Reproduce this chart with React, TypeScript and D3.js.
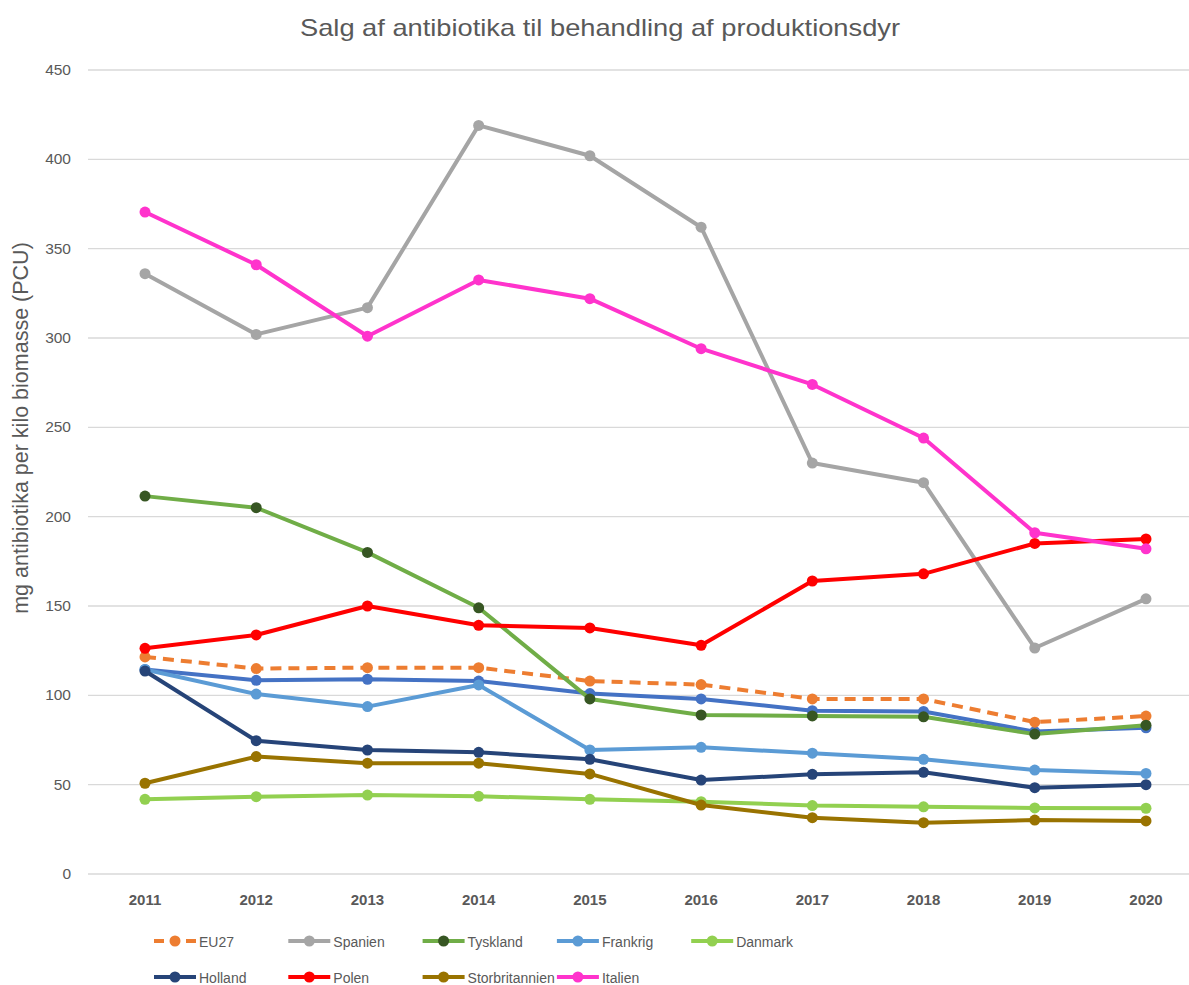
import React from "react";
import * as d3 from "d3";

const years = ["2011", "2012", "2013", "2014", "2015", "2016", "2017", "2018", "2019", "2020"];
const yTicks = [0, 50, 100, 150, 200, 250, 300, 350, 400, 450];

const eu27 = [121.5, 115, 115.5, 115.5, 108, 106, 98, 98, 85, 88.4];
const spanien = [336, 302, 317, 419, 402, 362, 230, 219, 126.5, 154];
const tyskland = [211.5, 205, 180, 149, 98, 89, 88.5, 88, 78.3, 83.3];
const frankrig = [114.5, 100.7, 93.7, 105.8, 69.4, 70.9, 67.6, 64.2, 58.2, 56.3];
const danmark = [41.8, 43.3, 44.2, 43.5, 41.8, 40.5, 38.3, 37.6, 37, 36.8];
const holland = [113.6, 74.6, 69.4, 68.1, 64.2, 52.6, 55.8, 56.9, 48.3, 50];
const polen = [126.3, 133.8, 150, 139.2, 137.7, 128, 164, 168, 185, 187.5];
const storbritannien = [50.8, 65.7, 62, 62, 56, 38.6, 31.5, 28.7, 30.2, 29.7];
const italien = [370.5, 341, 301, 332.5, 322, 294, 274, 244, 191, 182];
const unavngivet = [114.5, 108.4, 109, 108, 101, 98, 91.4, 91, 79.7, 81.8];

const legendNames = ["EU27", "Spanien", "Tyskland", "Frankrig", "Danmark", "Holland", "Polen", "Storbritannien", "Italien"];

type S = { name: string; values: number[]; color: string; marker: string; dashed?: boolean; legend: boolean };

const series: S[] = [
  { name: "Serie", values: unavngivet, color: "#4472C4", marker: "#4472C4", legend: false },
  { name: "EU27", values: eu27, color: "#ED7D31", marker: "#ED7D31", dashed: true, legend: true },
  { name: "Spanien", values: spanien, color: "#A5A5A5", marker: "#A5A5A5", legend: true },
  { name: "Tyskland", values: tyskland, color: "#70AD47", marker: "#375623", legend: true },
  { name: "Frankrig", values: frankrig, color: "#5B9BD5", marker: "#5B9BD5", legend: true },
  { name: "Danmark", values: danmark, color: "#92D050", marker: "#92D050", legend: true },
  { name: "Holland", values: holland, color: "#264478", marker: "#264478", legend: true },
  { name: "Polen", values: polen, color: "#FF0000", marker: "#FF0000", legend: true },
  { name: "Storbritannien", values: storbritannien, color: "#997300", marker: "#997300", legend: true },
  { name: "Italien", values: italien, color: "#FF33CC", marker: "#FF33CC", legend: true },
];

const W = 1189;
const H = 985;
const FONT = "'Liberation Sans', Arial, sans-serif";

export default function App() {
  const x = d3.scalePoint<string>().domain(years).range([89.4, 1201.6]).padding(0.5);
  const y = d3.scaleLinear().domain([0, 450]).range([874, 70]);
  const line = d3
    .line<number>()
    .x((_, i) => x(years[i]) as number)
    .y((d) => y(d));

  const legendItems = legendNames.map((n) => series.find((s) => s.name === n)!);

  return (
    <div style={{ position: "absolute", left: 0, top: 0 }}>
      <svg width={W} height={H} style={{ display: "block", background: "#fff" }}>
        <text
          x={600}
          y={36}
          textAnchor="middle"
          fontFamily={FONT}
          fontSize={24}
          fill="#595959"
          textLength={600}
          lengthAdjust="spacingAndGlyphs"
        >
          Salg af antibiotika til behandling af produktionsdyr
        </text>
        {yTicks.map((t) => (
          <g key={t}>
            <line x1={88} x2={W} y1={y(t)} y2={y(t)} stroke="#D9D9D9" strokeWidth={1.3} />
            <text x={71} y={y(t) + 5} textAnchor="end" fontFamily={FONT} fontSize={15.5} fill="#595959">
              {t}
            </text>
          </g>
        ))}
        {years.map((yr) => (
          <text key={yr} x={x(yr)} y={905} textAnchor="middle" fontFamily={FONT} fontSize={15} fontWeight="bold" fill="#595959">
            {yr}
          </text>
        ))}
        <text
          transform={`translate(28,428) rotate(-90)`}
          textAnchor="middle"
          fontFamily={FONT}
          fontSize={21.5}
          fill="#595959"
        >
          mg antibiotika per kilo biomasse (PCU)
        </text>
        {series.map((s) => (
          <g key={s.name}>
            <path
              d={line(s.values) || ""}
              fill="none"
              stroke={s.color}
              strokeWidth={4}
              strokeLinejoin="round"
              strokeDasharray={s.dashed ? "11,7" : undefined}
            />
            {s.values.map((v, i) => (
              <circle key={i} cx={x(years[i])} cy={y(v)} r={5.5} fill={s.marker} />
            ))}
          </g>
        ))}
        {legendItems.map((s, i) => {
          const col = i < 5 ? i : i - 5;
          const row = i < 5 ? 0 : 1;
          const lx = 154 + col * 134.3;
          const ly = row === 0 ? 941 : 977;
          return (
            <g key={s.name}>
              <line
                x1={lx}
                x2={lx + 42}
                y1={ly}
                y2={ly}
                stroke={s.color}
                strokeWidth={4}
                strokeDasharray={s.dashed ? "10,6" : undefined}
              />
              <circle cx={lx + 21} cy={ly} r={5.5} fill={s.marker} />
              <text x={lx + 45} y={ly + 5.5} fontFamily={FONT} fontSize={14} fill="#595959">
                {s.name}
              </text>
            </g>
          );
        })}
      </svg>
    </div>
  );
}
